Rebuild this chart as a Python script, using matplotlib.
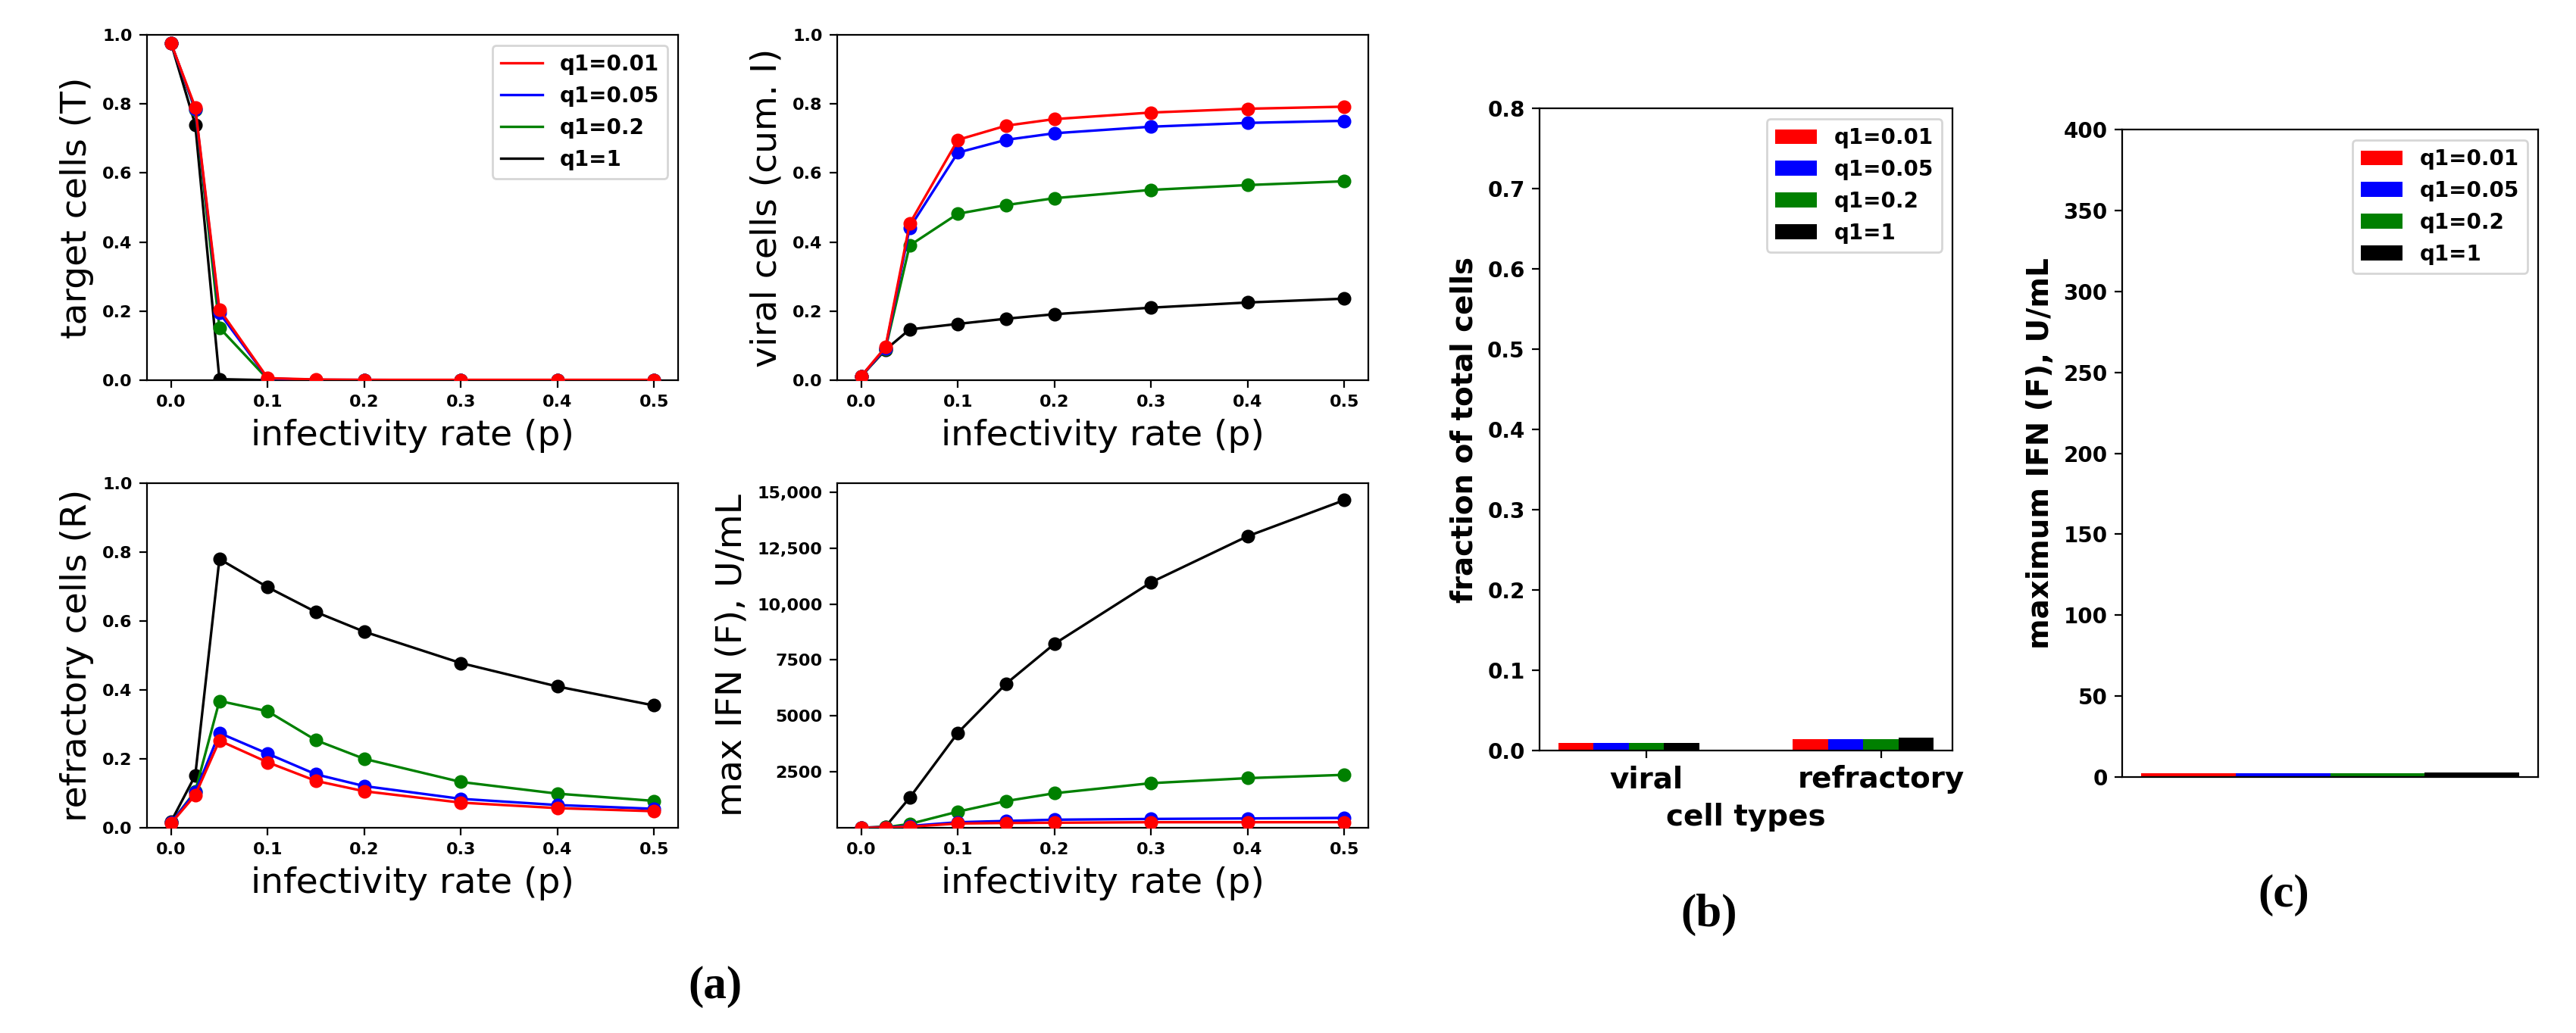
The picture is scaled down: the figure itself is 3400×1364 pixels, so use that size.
"""Recreate the three-part figure: (a) four line panels vs infectivity rate,
(b) fraction of total cells by cell type, (c) maximum IFN bars."""
import matplotlib

matplotlib.use("Agg")
import matplotlib.pyplot as plt
from matplotlib.ticker import FuncFormatter

# ---- data ----
p = [0.0, 0.025, 0.05, 0.1, 0.15, 0.2, 0.3, 0.4, 0.5]
q_labels = ["q1=0.01", "q1=0.05", "q1=0.2", "q1=1"]
colors = ["red", "blue", "green", "black"]

target_T = [
    [0.975, 0.790, 0.205, 0.006, 0.002, 0.001, 0.001, 0.001, 0.001],
    [0.975, 0.785, 0.195, 0.005, 0.001, 0.001, 0.000, 0.000, 0.000],
    [0.975, 0.782, 0.152, 0.003, 0.001, 0.000, 0.000, 0.000, 0.000],
    [0.975, 0.740, 0.003, 0.000, 0.000, 0.000, 0.000, 0.000, 0.000],
]
viral_I = [
    [0.012, 0.096, 0.453, 0.696, 0.737, 0.756, 0.775, 0.786, 0.792],
    [0.012, 0.092, 0.441, 0.659, 0.696, 0.715, 0.734, 0.745, 0.751],
    [0.012, 0.090, 0.390, 0.482, 0.507, 0.527, 0.551, 0.565, 0.576],
    [0.012, 0.088, 0.147, 0.163, 0.178, 0.191, 0.210, 0.225, 0.236],
]
refractory_R = [
    [0.013, 0.095, 0.253, 0.190, 0.136, 0.106, 0.073, 0.057, 0.048],
    [0.015, 0.103, 0.275, 0.215, 0.155, 0.121, 0.084, 0.066, 0.055],
    [0.015, 0.106, 0.368, 0.338, 0.254, 0.200, 0.133, 0.099, 0.078],
    [0.018, 0.152, 0.780, 0.698, 0.626, 0.569, 0.478, 0.410, 0.355],
]
max_ifn = [
    [0, 5, 45, 190, 214, 225, 248, 248, 250],
    [0, 10, 80, 248, 304, 360, 394, 417, 440],
    [0, 20, 169, 721, 1194, 1543, 1993, 2218, 2365],
    [0, 50, 1340, 4245, 6441, 8221, 10968, 13029, 14640],
]

cell_types = ["viral", "refractory"]
fraction_cells = [  # per q1, [viral, refractory]
    [0.0095, 0.0145],
    [0.0095, 0.0145],
    [0.0095, 0.0145],
    [0.0095, 0.0158],
]
max_ifn_bars = [2.3, 2.5, 2.5, 3.0]

W, H = 3400, 1364
DPI = 200
fig = plt.figure(figsize=(W / DPI, H / DPI), dpi=DPI)


def rect(x0, y0, x1, y1):
    # pixel box (top-left origin) -> figure fraction rect
    return [x0 / W, 1 - y1 / H, (x1 - x0) / W, (y1 - y0) / H]


def bold_ticks(ax, size):
    ax.tick_params(labelsize=size)
    for lab in ax.get_xticklabels() + ax.get_yticklabels():
        lab.set_fontweight("bold")


def line_panel(ax, series, ylabel, legend=False):
    n = len(series)
    for i in range(n):
        z = 10 - i
        ax.plot(p, series[i], color=colors[i], lw=1.2, label=q_labels[i], zorder=z)
        ax.plot(p, series[i], "o", color=colors[i], ms=5.5, zorder=z)
    ax.set_xticks([0.0, 0.1, 0.2, 0.3, 0.4, 0.5])
    ax.set_xlabel("infectivity rate (p)", fontsize=17)
    ax.set_ylabel(ylabel, fontsize=17)
    if legend:
        ax.legend(prop={"weight": "bold", "size": 10}, loc="upper right")


# ---- (a) ----
ax1 = fig.add_axes(rect(194, 46, 895, 502))
line_panel(ax1, target_T, "target cells (T)", legend=True)
ax1.set_ylim(0, 1.0)
bold_ticks(ax1, 8)

ax2 = fig.add_axes(rect(1105, 46, 1806, 502))
line_panel(ax2, viral_I, "viral cells (cum. I)")
ax2.set_ylim(0, 1.0)
bold_ticks(ax2, 8)

ax3 = fig.add_axes(rect(194, 638, 895, 1093))
line_panel(ax3, refractory_R, "refractory cells (R)")
ax3.set_ylim(0, 1.0)
bold_ticks(ax3, 8)

ax4 = fig.add_axes(rect(1105, 638, 1806, 1093))
line_panel(ax4, max_ifn, "max IFN (F), U/mL")
ax4.set_ylim(0, 15400)
ax4.set_yticks([2500, 5000, 7500, 10000, 12500, 15000])
ax4.yaxis.set_major_formatter(
    FuncFormatter(lambda v, _: f"{v:,.0f}" if v >= 10000 else f"{v:.0f}")
)
bold_ticks(ax4, 8)

# ---- (b) ----
axb = fig.add_axes(rect(2032, 143, 2577, 991))
w = 0.15
groups = list(range(len(cell_types)))
for i in range(len(q_labels)):
    xs = [g + (i - 2) * w for g in groups]
    axb.bar(xs, fraction_cells[i], width=w, color=colors[i], label=q_labels[i])
axb.set_xticks(groups)
axb.set_xticklabels(cell_types, fontsize=14, fontweight="bold")
axb.set_ylim(0, 0.8)
axb.set_ylabel("fraction of total cells", fontsize=14, fontweight="bold")
axb.set_xlabel("cell types", fontsize=14, fontweight="bold")
axb.tick_params(axis="y", labelsize=10)
for lab in axb.get_yticklabels():
    lab.set_fontweight("bold")
axb.legend(prop={"weight": "bold", "size": 10}, loc="upper right")

# ---- (c) ----
axc = fig.add_axes(rect(2801, 171, 3350, 1026))
for i in range(len(q_labels)):
    axc.bar(i, max_ifn_bars[i], width=1.0, color=colors[i], label=q_labels[i])
axc.set_xticks([])
axc.set_ylim(0, 400)
axc.set_ylabel("maximum IFN (F), U/mL", fontsize=14, fontweight="bold")
axc.tick_params(axis="y", labelsize=10)
for lab in axc.get_yticklabels():
    lab.set_fontweight("bold")
axc.legend(prop={"weight": "bold", "size": 10}, loc="upper right")

# ---- panel letters ----
serif = ["Liberation Serif", "DejaVu Serif"]
for txt, (x, y) in [("(a)", (944, 1303)), ("(b)", (2256, 1208)), ("(c)", (3014, 1182))]:
    fig.text(x / W, 1 - y / H, txt, ha="center", va="center",
             fontsize=22, fontweight="bold", family=serif)

fig.savefig("out.png", dpi=DPI)
